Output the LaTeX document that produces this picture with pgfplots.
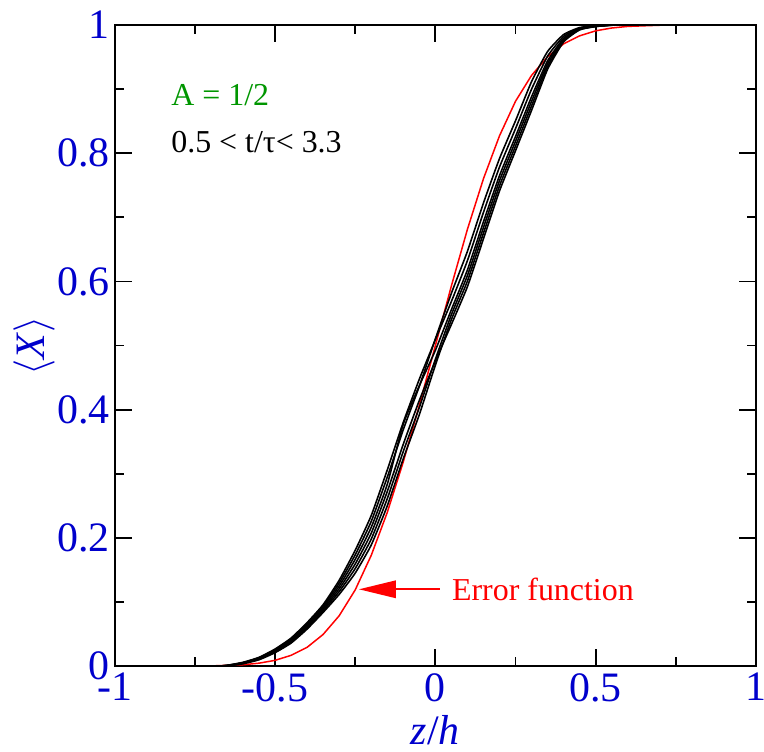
\documentclass[border=0pt]{standalone}
\usepackage{fontspec}
\setmainfont{Liberation Serif}
\usepackage{pgfplots}
\pgfplotsset{compat=1.18}
\usepackage{pgfplotstable}
\definecolor{tickblue}{RGB}{0,0,204}
\definecolor{agreen}{RGB}{0,150,0}

\pgfplotstableread{
x      y1      y2      y3      y4      y5      y6
-1.00  0       0       0       0       0       0
-0.70  0       0       0       0       0       0
-0.65  0.0015  0.0013  0.0011  0.0009  0.0007  0.0005
-0.60  0.0061  0.0057  0.0052  0.0048  0.0043  0.0039
-0.55  0.0139  0.0131  0.0124  0.0116  0.0109  0.0101
-0.50  0.0268  0.0257  0.0246  0.0234  0.0223  0.0212
-0.45  0.0439  0.0423  0.0408  0.0392  0.0377  0.0361
-0.40  0.0680  0.0660  0.0640  0.0620  0.0600  0.0580
-0.35  0.0960  0.0936  0.0912  0.0888  0.0864  0.0840
-0.30  0.1340  0.1296  0.1252  0.1208  0.1164  0.1120
-0.25  0.1808  0.1737  0.1666  0.1594  0.1523  0.1452
-0.20  0.2350  0.2258  0.2166  0.2074  0.1982  0.1890
-0.15  0.3060  0.2948  0.2836  0.2724  0.2612  0.2500
-0.10  0.3804  0.3690  0.3777  0.3463  0.3350  0.3236
-0.05  0.4476  0.4366  0.4375  0.4145  0.4034  0.3924
0.00   0.5092  0.5105  0.4926  0.4759  0.4785  0.4695
0.05   0.5688  0.5816  0.5560  0.5330  0.5483  0.5406
0.10   0.6325  0.6470  0.6180  0.5919  0.6093  0.6006
0.15   0.7077  0.7224  0.6930  0.6665  0.6842  0.6754
0.20   0.7783  0.7916  0.7650  0.7411  0.7570  0.7490
0.25   0.8383  0.8506  0.8260  0.8039  0.8186  0.8112
0.30   0.8998  0.9116  0.8880  0.8668  0.8809  0.8738
0.35   0.9513  0.9586  0.9440  0.9309  0.9396  0.9353
0.40   0.9820  0.9850  0.9790  0.9736  0.9772  0.9754
0.45   0.9950  0.9959  0.9940  0.9923  0.9934  0.9929
0.50   0.9983  0.9986  0.9980  0.9975  0.9978  0.9976
0.55   1.0000  1.0000  0.9998  0.9995  0.9997  0.9996
0.60   1       1       1       1       1       1
1.00   1       1       1       1       1       1
}\blackdata

\pgfplotstableread{
x      y
-1.00  0
-0.80  0.0000
-0.70  0.0005
-0.60  0.0023
-0.55  0.0048
-0.50  0.0092
-0.45  0.0170
-0.40  0.0295
-0.35  0.0496
-0.30  0.0787
-0.25  0.1190
-0.20  0.1729
-0.15  0.2398
-0.10  0.3187
-0.05  0.4069
0.00   0.5000
0.05   0.5931
0.10   0.6813
0.15   0.7602
0.20   0.8271
0.25   0.8810
0.30   0.9213
0.35   0.9504
0.40   0.9705
0.45   0.9830
0.50   0.9908
0.55   0.9952
0.60   0.9977
0.70   0.9995
0.80   1.0000
1.00   1
}\reddata

\begin{document}
\begin{tikzpicture}
\begin{axis}[
  width=321.5pt, height=321.5pt, scale only axis,
  xmin=-1, xmax=1, ymin=0, ymax=1,
  xtick={-1,-0.5,0,0.5,1},
  xticklabels={-1,-0.5,0,0.5,1},
  ytick={0,0.2,0.4,0.6,0.8,1},
  yticklabels={0,0.2,0.4,0.6,0.8,1},
  minor xtick={-0.75,-0.25,0.25,0.75},
  minor ytick={0.1,0.3,0.5,0.7,0.9},
  tick align=inside,
  major tick length=8.5pt, minor tick length=4.5pt,
  every tick/.style={black, line width=0.9pt},
  axis line style={line width=1.2pt},
  ticklabel style={font=\fontsize{21}{23}\selectfont, text=tickblue},
  yticklabel style={xshift=1pt},
  /pgf/number format/assume math mode=true,
  xlabel={\textit{z}/\textit{h}},
  ylabel={$\langle$\textit{X}$\rangle$},
  xlabel style={font=\fontsize{21}{23}\selectfont, text=tickblue, at={(rel axis cs:0.5,0)}, anchor=base, yshift=-39pt},
  ylabel style={font=\fontsize{21}{23}\selectfont, text=tickblue, at={(rel axis cs:0,0.5)}, anchor=center, yshift=40.5pt},
  clip=true,
]
\addplot[red, line width=0.75pt] table[x=x,y=y] {\reddata};
\addplot[black, line width=0.8pt, smooth, tension=0.3] table[x=x,y=y1] {\blackdata};
\addplot[black, line width=0.8pt, smooth, tension=0.3] table[x=x,y=y2] {\blackdata};
\addplot[black, line width=0.8pt, smooth, tension=0.3] table[x=x,y=y3] {\blackdata};
\addplot[black, line width=0.8pt, smooth, tension=0.3] table[x=x,y=y4] {\blackdata};
\addplot[black, line width=0.8pt, smooth, tension=0.3] table[x=x,y=y5] {\blackdata};
\addplot[black, line width=0.8pt, smooth, tension=0.3] table[x=x,y=y6] {\blackdata};

\draw[red, line width=1pt] (axis cs:0.014,0.12) -- (axis cs:-0.125,0.12);
\fill[red] (axis cs:-0.238,0.12) -- (axis cs:-0.123,0.134) -- (axis cs:-0.123,0.106) -- cycle;
\node[anchor=west, inner sep=0pt, text=red, font=\fontsize{16}{18}\selectfont] at (axis cs:0.051,0.12) {Error function};
\node[anchor=west, inner sep=0pt, text=agreen, font=\fontsize{16}{18}\selectfont] at (axis cs:-0.8245,0.89) {A = 1/2};
\node[anchor=west, inner sep=0pt, text=black, font=\fontsize{16}{18}\selectfont] at (axis cs:-0.8245,0.8165) {0.5 < t/τ< 3.3};

\coordinate (bl) at (rel axis cs:0,0);
\coordinate (tr) at (rel axis cs:1,1);
\end{axis}
\pgfresetboundingbox
\path[use as bounding box] ([shift={(-57.5pt,-42.5pt)}]bl) rectangle ([shift={(4pt,12.5pt)}]tr);
\end{tikzpicture}
\end{document}
